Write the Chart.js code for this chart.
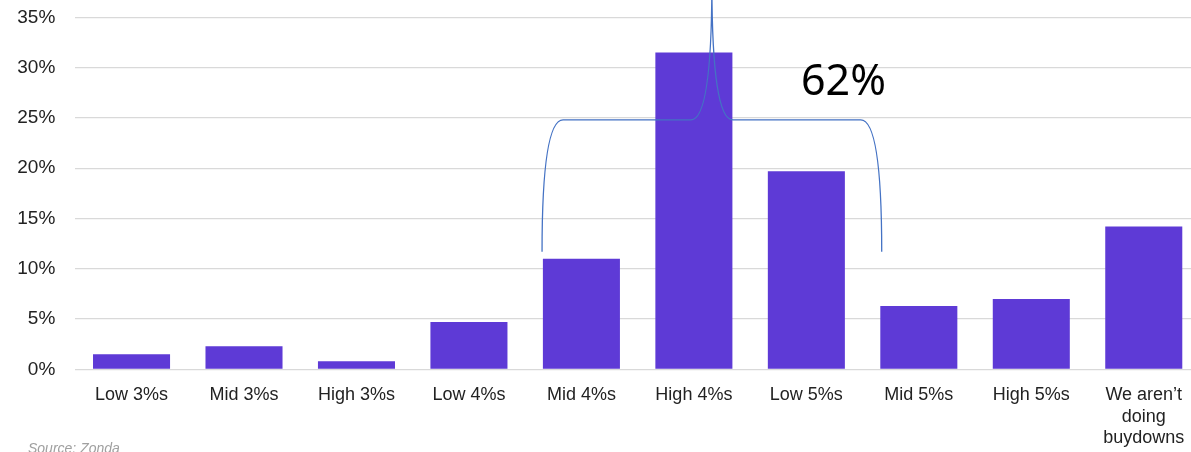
<!DOCTYPE html>
<html>
<head>
<meta charset="utf-8">
<script src="https://cdn.jsdelivr.net/npm/chart.js@4/dist/chart.umd.min.js"></script>
<style>
  html, body { margin: 0; padding: 0; background: #fff; overflow: hidden; width: 1191px; height: 452px; }
  #wrap { position: relative; width: 1191px; height: 452px; overflow: hidden; }
  #chart { position: absolute; left: 0; top: -14.5px; }
  #source { position: absolute; left: 28px; top: 440px; font: italic 14px "Liberation Sans", sans-serif; color: #a0a0a0; }
</style>
</head>
<body>
<div id="wrap">
  <canvas id="chart" width="1210" height="466.5"></canvas>
  <div id="source">Source: Zonda</div>
</div>
<script>
// categories and values (percent of respondents)
const categories = ["Low 3%s", "Mid 3%s", "High 3%s", "Low 4%s", "Mid 4%s", "High 4%s", "Low 5%s", "Mid 5%s", "High 5%s", ["We aren’t", "doing", "buydowns"]];
const shares = [1.5, 2.3, 0.8, 4.7, 11.0, 31.5, 19.7, 6.3, 7.0, 14.2];
const yTicks = [0, 5, 10, 15, 20, 25, 30, 35];

// brace annotation, in data units (category index / percent)
const braceFrom = 3.65;
const braceTo = 6.67;
const braceTip = 5.16;
const braceLevel = 24.8;
const braceFoot = 11.7;
const braceTop = 38.5;
const braceLabel = "62%";
const braceLabelAt = [6.33, 27.3];

const bracePlugin = {
  id: "brace",
  afterDraw(chart) {
    const x = chart.scales.x, y = chart.scales.y, ctx = chart.ctx;
    const x0 = x.getPixelForValue(braceFrom), x1 = x.getPixelForValue(braceTo), xm = x.getPixelForValue(braceTip);
    const yl = y.getPixelForValue(braceLevel), yf = y.getPixelForValue(braceFoot), yt = y.getPixelForValue(braceTop);
    const c = 21; // corner width in px
    ctx.save();
    ctx.strokeStyle = "#4472C4";
    ctx.lineWidth = 1.3;
    ctx.beginPath();
    ctx.moveTo(x0, yf);
    ctx.quadraticCurveTo(x0, yl, x0 + c, yl);
    ctx.lineTo(xm - c, yl);
    ctx.quadraticCurveTo(xm, yl, xm, yt);
    ctx.quadraticCurveTo(xm, yl, xm + c, yl);
    ctx.lineTo(x1 - c, yl);
    ctx.quadraticCurveTo(x1, yl, x1, yf);
    ctx.stroke();

    ctx.fillStyle = "#000";
    ctx.font = '43px "Noto Sans", sans-serif';
    ctx.textAlign = "center";
    ctx.textBaseline = "alphabetic";
    ctx.fillText(braceLabel, x.getPixelForValue(braceLabelAt[0]), y.getPixelForValue(braceLabelAt[1]));
    ctx.restore();
  }
};

const ctx = document.getElementById("chart").getContext("2d");
new Chart(ctx, {
  type: "bar",
  data: {
    labels: categories,
    datasets: [{
      data: shares,
      backgroundColor: "#5E3AD6",
      categoryPercentage: 1,
      barPercentage: 0.685,
    }],
  },
  options: {
    responsive: false,
    animation: false,
    layout: { padding: { top: 1.5, right: 10, left: 0, bottom: 0 } },
    plugins: { legend: { display: false }, tooltip: { enabled: false } },
    scales: {
      x: {
        grid: { display: false },
        border: { display: false },
        ticks: {
          color: "#222",
          font: { family: "Liberation Sans", size: 18 },
          padding: 7,
          maxRotation: 0,
          autoSkip: false,
        },
        afterFit: (s) => { s.height = 82.7; },
      },
      y: {
        min: 0,
        max: 35,
        afterBuildTicks: (s) => { s.ticks = yTicks.map((v) => ({ value: v })); },
        grid: { color: "#d9d9d9", lineWidth: 1.2, drawTicks: false },
        border: { display: false },
        ticks: {
          color: "#222",
          font: { family: "Liberation Sans", size: 19 },
          padding: 20,
          callback: (v) => v + "%",
        },
        afterFit: (s) => { s.width = 75.3; },
      },
    },
  },
  plugins: [bracePlugin],
});
</script>
</body>
</html>
